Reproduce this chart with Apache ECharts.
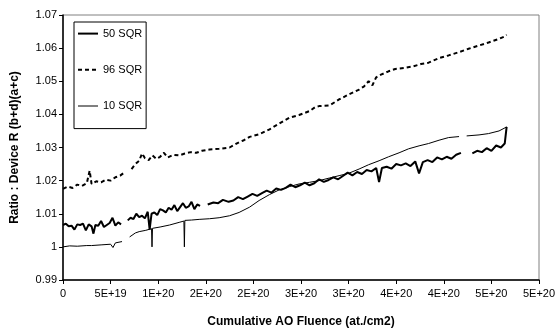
<!DOCTYPE html>
<html>
<head>
<meta charset="utf-8">
<script src="https://cdn.jsdelivr.net/npm/echarts@6/dist/echarts.min.js"></script>
<style>
  html, body { margin: 0; padding: 0; background: #fff; }
  #chart { width: 559px; height: 333px; }
</style>
</head>
<body>
<div id="chart"></div>
<script>
// fluence in units of 1e19 at./cm2, ratio values (null = gap)
var fluence50 = [0.0, 0.3, 0.6, 0.9, 1.2, 1.5, 1.8, 2.1, 2.4, 2.7, 3.0, 3.2, 3.4, 3.7, 4.0, 4.3, 4.6, 4.9, 5.2, 5.5, 5.8, 6.1, 6.4,
  6.8, 7.1, 7.4, 7.7, 8.0, 8.3, 8.6, 8.9, 9.1, 9.3, 9.6, 9.9, 10.2, 10.5, 10.8, 11.1, 11.4, 11.7, 12.0, 12.3, 12.6, 12.9, 13.2, 13.5, 13.8, 14.1, 14.4, 14.8,
  15.2, 15.8, 16.3, 16.8, 17.4, 17.9, 18.4, 18.9, 19.4, 19.9, 20.4, 20.9, 21.4, 21.9, 22.4, 22.9, 23.4, 23.9, 24.4, 24.9, 25.4, 25.9, 26.4, 26.9, 27.4, 27.9,
  28.4, 28.9, 29.4, 29.9, 30.4, 30.9, 31.4, 31.9, 32.4, 32.9, 33.2, 33.5, 34.0, 34.5, 35.0, 35.5, 36.0, 36.5, 37.0, 37.4, 37.8, 38.3, 38.8, 39.3, 39.8,
  40.3, 40.8, 41.3, 41.8, 42.3, 43.0, 43.5, 44.0, 44.5, 45.0, 45.5, 46.0, 46.4, 46.6];
var ratio50 = [1.0066, 1.0070, 1.0062, 1.0064, 1.0052, 1.0068, 1.0066, 1.0070, 1.0050, 1.0068, 1.0062, 1.0040, 1.0066, 1.0064, 1.0078, 1.0060, 1.0066, 1.0072, 1.0088, 1.0064, 1.0074, 1.0068, null,
  1.0080, 1.0088, 1.0084, 1.0100, 1.0090, 1.0094, 1.0086, 1.0106, 1.0052, 1.0100, 1.0104, 1.0096, 1.0114, 1.0110, 1.0104, 1.0118, 1.0112, 1.0126, 1.0108, 1.0120, 1.0132, 1.0118, 1.0122, 1.0136, 1.0114, 1.0128, 1.0124, null,
  1.0128, 1.0134, 1.0132, 1.0142, 1.0136, 1.0140, 1.0150, 1.0144, 1.0152, 1.0160, 1.0154, 1.0162, 1.0170, 1.0164, 1.0176, 1.0172, 1.0178, 1.0188, 1.0180, 1.0186, 1.0194, 1.0186, 1.0192, 1.0204, 1.0196, 1.0202,
  1.0210, 1.0204, 1.0214, 1.0224, 1.0216, 1.0226, 1.0220, 1.0232, 1.0228, 1.0238, 1.0196, 1.0238, 1.0242, 1.0236, 1.0250, 1.0246, 1.0252, 1.0244, 1.0258, 1.0222, 1.0256, 1.0262, 1.0256, 1.0270, 1.0264,
  1.0272, 1.0266, 1.0278, 1.0284, null, 1.0282, 1.0290, 1.0286, 1.0298, 1.0290, 1.0306, 1.0300, 1.0312, 1.0362];

var fluence96 = [0.0, 0.5, 1.0, 1.5, 2.0, 2.5, 2.8, 3.0, 3.5, 4.0, 4.5, 5.0, 5.5, 6.0, 6.5, 6.8, 7.2, 7.6, 8.0, 8.3, 8.6, 9.0, 9.4, 9.8, 10.2, 10.6, 11.0,
  11.6, 12.2, 12.8, 13.4, 14.0, 14.6, 15.4, 16.4, 17.5, 18.5, 19.0, 19.6, 20.6, 21.7, 22.7, 23.8, 24.8, 25.9, 26.5, 26.9, 28.0, 29.0, 30.0, 31.1, 31.6,
  32.1, 32.5, 32.9, 33.4, 34.2, 34.9, 35.8, 36.8, 37.6, 38.4, 39.5, 40.5, 41.6, 42.6, 43.7, 44.7, 45.8, 46.3, 46.6];
var ratio96 = [1.0175, 1.0182, 1.0178, 1.0188, 1.0184, 1.0192, 1.0230, 1.0190, 1.0198, 1.0195, 1.0203, 1.0200, 1.0210, 1.0215, 1.0226, null, 1.0235, 1.0250, 1.0260, 1.0282, 1.0268, 1.0262, 1.0276, 1.0266, 1.0272, 1.0284, 1.0270,
  1.0278, 1.0276, 1.0282, 1.0286, 1.0284, 1.0290, 1.0294, 1.0296, 1.0300, 1.0316, 1.0322, 1.0332, 1.0340, 1.0355, 1.0372, 1.0390, 1.0398, 1.0410, 1.0422, 1.0425, 1.0427, 1.0445, 1.0460, 1.0475, 1.0484,
  1.0500, 1.0488, 1.0512, 1.0520, 1.0530, 1.0537, 1.0540, 1.0545, 1.0552, 1.0556, 1.0570, 1.0578, 1.0588, 1.0598, 1.0608, 1.0617, 1.0628, 1.0634, 1.0640];

var fluence10 = [0.0, 0.7, 1.5, 2.5, 3.0, 4.0, 5.0, 5.2, 5.25, 5.5, 6.2, 6.5, 7.0, 7.6, 8.0, 8.7, 9.3, 9.35, 9.4, 10.2, 11.2, 12.2, 12.7, 12.75, 12.8, 13.5, 14.3,
  15.4, 16.4, 17.5, 18.5, 19.6, 20.6, 21.7, 22.7, 23.8, 24.8, 25.9, 26.9, 28.0, 29.0, 30.0, 31.1, 32.1, 33.2, 34.2, 35.3, 36.3, 37.4, 38.4, 39.5, 40.5, 41.6, 42.0,
  42.4, 43.7, 44.7, 45.8, 46.6];
var ratio10 = [1.0000, 1.0003, 1.0002, 1.0004, 1.0004, 1.0006, 1.0008, 1.0014, 0.9998, 1.0012, 1.0016, null, 1.0030, 1.0042, 1.0046, 1.0050, 1.0055, 1.0000, 1.0056, 1.0060, 1.0066, 1.0074, 1.0078, 1.0000, 1.0080, 1.0081, 1.0083,
  1.0085, 1.0088, 1.0094, 1.0104, 1.0120, 1.0140, 1.0158, 1.0172, 1.0182, 1.0190, 1.0195, 1.0200, 1.0208, 1.0215, 1.0222, 1.0235, 1.0248, 1.0260, 1.0272, 1.0284, 1.0296, 1.0305, 1.0312, 1.0322, 1.0330, 1.0333, null,
  1.0335, 1.0338, 1.0342, 1.0350, 1.0362];

var seriesNames = ["50 SQR", "96 SQR", "10 SQR"];
var xTickLabels = ["0", "5E+19", "1E+20", "2E+20", "2E+20", "3E+20", "3E+20", "4E+20", "4E+20", "5E+20", "5E+20"];

function pairs(xs, ys) {
    return xs.map(function (x, i) {
        return [x, ys[i] === null ? "-" : ys[i]];
    });
}

var font = "Liberation Sans, Arial, sans-serif";
var chart = echarts.init(document.getElementById("chart"));

chart.setOption({
    animation: false,
    grid: {
        left: 63,
        right: 20,
        top: 15,
        bottom: 48,
        show: true,
        borderColor: "#808080",
        borderWidth: 1
    },
    legend: {
        orient: "vertical",
        left: 74,
        top: 22,
        data: [
            { name: seriesNames[0], lineStyle: { width: 2 } },
            { name: seriesNames[1], lineStyle: { width: 2 } },
            { name: seriesNames[2], lineStyle: { width: 1 } }
        ],
        itemWidth: 20,
        itemHeight: 14,
        itemGap: 25,
        padding: [6, 4, 17, 3],
        borderColor: "#000",
        borderWidth: 1,
        itemStyle: { opacity: 0 },
        textStyle: { color: "#000", fontSize: 11, fontFamily: font }
    },
    xAxis: {
        type: "value",
        min: 0,
        max: 50,
        interval: 5,
        name: "Cumulative AO Fluence (at./cm2)",
        nameLocation: "middle",
        nameGap: 36,
        nameTextStyle: { color: "#000", fontSize: 12, fontWeight: "bold", fontFamily: font },
        axisLine: { lineStyle: { color: "#000", width: 1.5 } },
        axisTick: { length: 4, lineStyle: { color: "#000" } },
        axisLabel: {
            color: "#000",
            fontSize: 11,
            fontFamily: font,
            margin: 8,
            formatter: function (v) {
                return xTickLabels[Math.round(v / 5)];
            }
        },
        splitLine: { show: false }
    },
    yAxis: {
        type: "value",
        min: 0.99,
        max: 1.07,
        interval: 0.01,
        name: "Ratio : Device R (b+d)(a+c)",
        nameLocation: "middle",
        nameGap: 42,
        nameTextStyle: { color: "#000", fontSize: 12, fontWeight: "bold", fontFamily: font },
        axisLine: { show: true, lineStyle: { color: "#000", width: 1.5 } },
        axisTick: { show: true, length: 4, lineStyle: { color: "#000" } },
        axisLabel: { color: "#000", fontSize: 11, fontFamily: font, margin: 6 },
        splitLine: { show: false }
    },
    series: [
        {
            name: seriesNames[0],
            type: "line",
            symbol: "none",
            connectNulls: false,
            lineStyle: { color: "#000", width: 2 },
            itemStyle: { color: "#000" },
            data: pairs(fluence50, ratio50)
        },
        {
            name: seriesNames[1],
            type: "line",
            symbol: "none",
            connectNulls: false,
            lineStyle: { color: "#000", width: 2, type: [4, 3] },
            itemStyle: { color: "#000" },
            data: pairs(fluence96, ratio96)
        },
        {
            name: seriesNames[2],
            type: "line",
            symbol: "none",
            connectNulls: false,
            lineStyle: { color: "#000", width: 1 },
            itemStyle: { color: "#000" },
            data: pairs(fluence10, ratio10)
        }
    ]
});
</script>
</body>
</html>
